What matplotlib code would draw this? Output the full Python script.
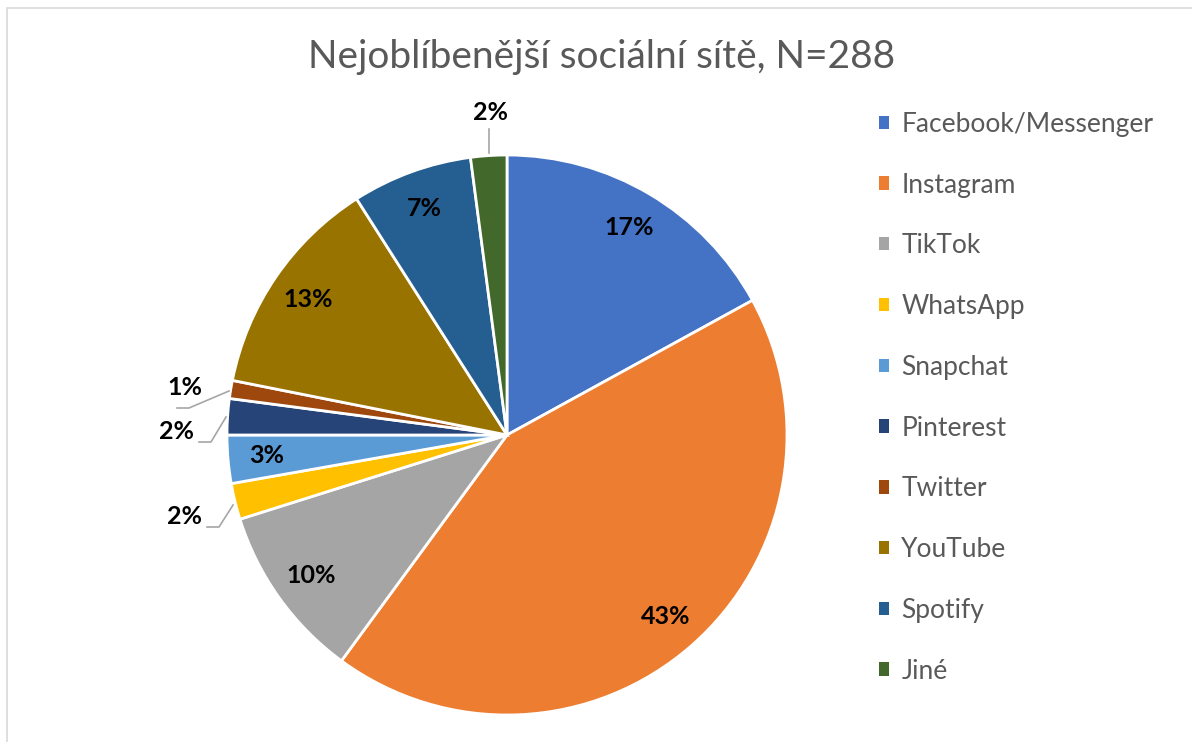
import matplotlib.pyplot as plt
from matplotlib.patches import Rectangle
import numpy as np

# data (counts, N=288)
labels = ["Facebook/Messenger", "Instagram", "TikTok", "WhatsApp", "Snapchat",
          "Pinterest", "Twitter", "YouTube", "Spotify", "Jiné"]
counts = [49, 124, 29, 6, 8, 6, 3, 37, 20, 6]
colors = ["#4472C4", "#ED7D31", "#A5A5A5", "#FFC000", "#5B9BD5",
          "#264478", "#9E480E", "#997300", "#255E91", "#43682B"]
# slices whose label sits outside with a leader line
outside = ["WhatsApp", "Pinterest", "Twitter", "Jiné"]

W, H = 1192, 742
fig = plt.figure(figsize=(W / 100, H / 100), dpi=100)
plt.rcParams['font.family'] = ['Lato', 'DejaVu Sans']

# chart frame
fig.patches.append(Rectangle((7 / W, -0.05), 1.1, 1 - 8 / H + 0.05, transform=fig.transFigure,
                             fill=False, edgecolor="#D9D9D9", linewidth=1.2))

fig.text(602 / W, 1 - 57 / H, "Nejoblíbenější sociální sítě, N=288",
         ha="center", va="center", fontsize=28, color="#595959")

# pie axes: center (507, 435), radius 280 px
cx, cy, r = 507, 435, 280
ax = fig.add_axes([(cx - r) / W, (H - cy - r) / H, 2 * r / W, 2 * r / H])
wedges, _ = ax.pie(counts, colors=colors, startangle=90, counterclock=False,
                   wedgeprops=dict(edgecolor="white", linewidth=2))
ax.set_xlim(-1, 1)
ax.set_ylim(-1, 1)
ax.set_aspect("equal")
ax.axis("off")

total = sum(counts)
pcts = [f"{round(c / total * 100)}%" for c in counts]


def to_data(px, py):
    return (px - cx) / r, (cy - py) / r


# inside labels, placed at the wedge mid-angle
for w, lab, p in zip(wedges, labels, pcts):
    if lab in outside:
        continue
    ang = np.deg2rad((w.theta1 + w.theta2) / 2)
    ax.text(0.86 * np.cos(ang), 0.86 * np.sin(ang), p, ha="center", va="center",
            fontsize=18, fontweight="bold", color="black")

# outside labels with leader lines (pixel positions from the chart)
leaders = {
    "Jiné": ((490, 113), [(489, 129), (489, 153)]),
    "Twitter": ((185, 388), [(177, 408), (189, 408), (229, 391)]),
    "Pinterest": ((177, 432), [(199, 442), (211, 442), (226, 417)]),
    "WhatsApp": ((184, 517), [(207, 527), (219, 527), (233, 505)]),
}
for lab, (tpos, line) in leaders.items():
    i = labels.index(lab)
    tx, ty = to_data(*tpos)
    ax.text(tx, ty, pcts[i], ha="center", va="center",
            fontsize=18, fontweight="bold", color="black")
    xs, ys = zip(*[to_data(*pt) for pt in line])
    ax.plot(xs, ys, color="#A6A6A6", linewidth=1.2, clip_on=False)

leg = fig.legend(wedges, labels, loc="upper left", bbox_to_anchor=(855 / W, 1 - 88 / H),
                 frameon=False, fontsize=19, labelcolor="#595959",
                 handlelength=0.4, handleheight=0.4, handletextpad=0.45,
                 labelspacing=1.355)
for h in leg.legend_handles:
    h.set_edgecolor("none")

fig.savefig("out.png", dpi=100)
